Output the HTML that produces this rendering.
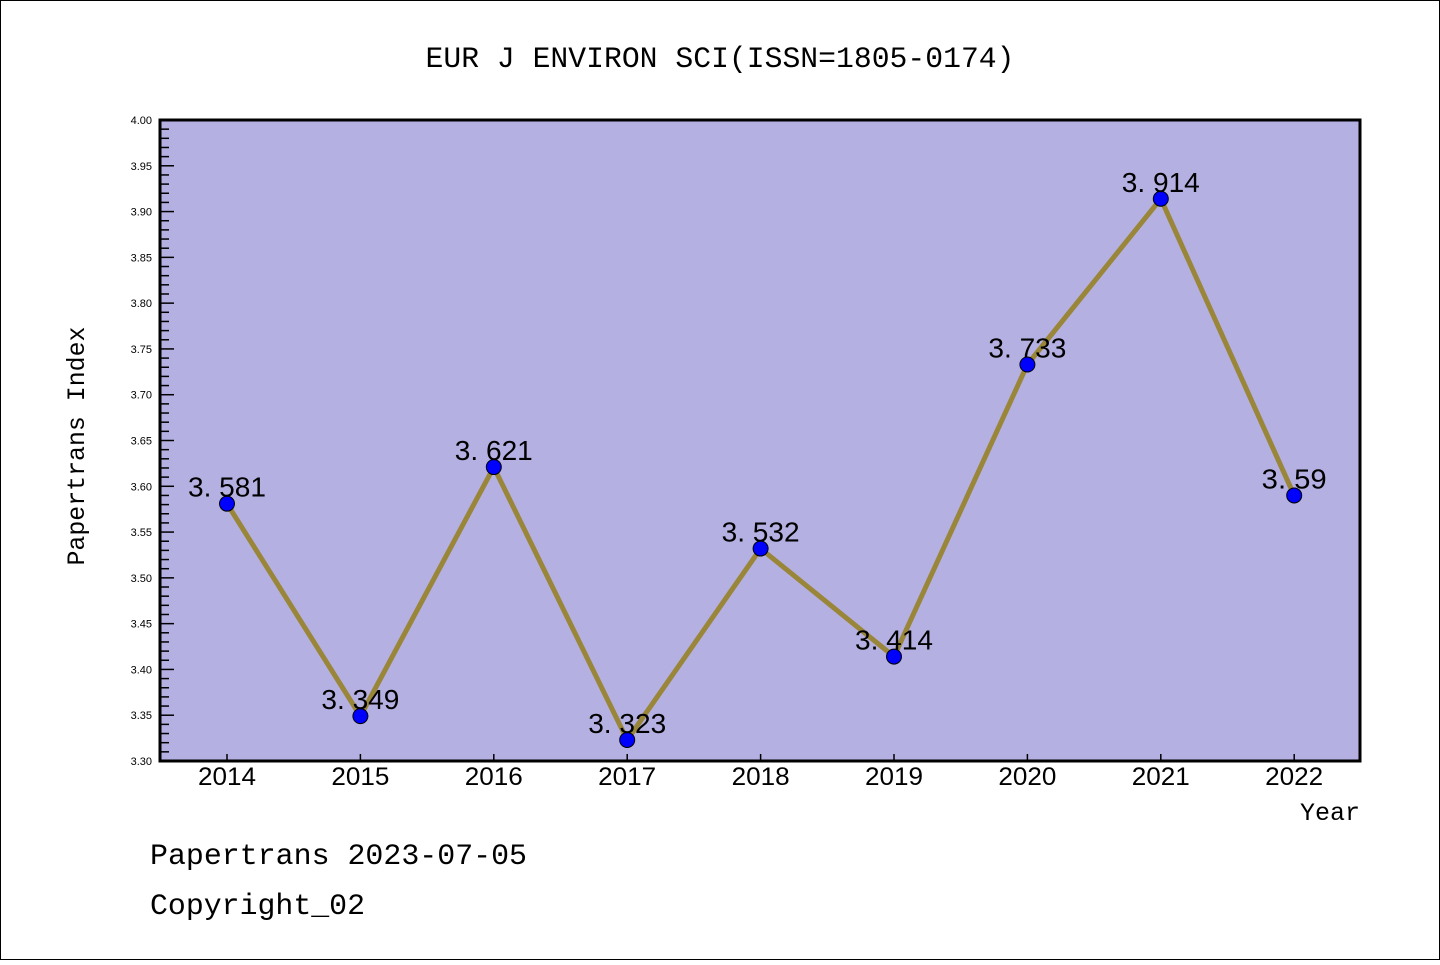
<!DOCTYPE html>
<html><head><meta charset="utf-8"><style>
html,body{margin:0;padding:0;background:#fff;}
svg text{font-family:"Liberation Mono","WenQuanYi Zen Hei",monospace;fill:#000;}
svg text.sans{font-family:"Liberation Sans","WenQuanYi Zen Hei",sans-serif;}
</style></head><body>
<svg id="chart" width="1440" height="960" xmlns="http://www.w3.org/2000/svg">
<rect x="0.5" y="0.5" width="1439" height="959" fill="#fff" stroke="#000" stroke-width="1"/>
<text x="720" y="67" font-size="30" text-anchor="middle" textLength="589" lengthAdjust="spacingAndGlyphs">EUR J ENVIRON SCI(ISSN=1805-0174)</text>
<rect x="160" y="120" width="1200" height="641" fill="#b5b0e2"/>
<g id="axes"></g>
<g id="series"></g>
<rect x="160" y="120" width="1200" height="641" fill="none" stroke="#000" stroke-width="3"/>
<text transform="translate(84,446) rotate(-90)" font-size="25" text-anchor="middle" textLength="239" lengthAdjust="spacingAndGlyphs">Papertrans Index</text>
<text x="1360" y="820" font-size="25" text-anchor="end">Year</text>
<text x="150" y="864" font-size="30" textLength="377" lengthAdjust="spacingAndGlyphs">Papertrans 2023-07-05</text>
<text x="150" y="914" font-size="30" textLength="215" lengthAdjust="spacingAndGlyphs">Copyright_02</text>
</svg>
<script>
const years=["2014","2015","2016","2017","2018","2019","2020","2021","2022"];
const values=[3.581,3.349,3.621,3.323,3.532,3.414,3.733,3.914,3.59];
const valueLabels=["3. 581","3. 349","3. 621","3. 323","3. 532","3. 414","3. 733","3. 914","3. 59"];
const yTicks=["3.30","3.35","3.40","3.45","3.50","3.55","3.60","3.65","3.70","3.75","3.80","3.85","3.90","3.95","4.00"];
const NS="http://www.w3.org/2000/svg";
const yMin=3.30,yMax=4.00,plotTop=120,plotBot=761,x0=227,dx=133.4;
function yS(v){return plotBot-(v-yMin)/(yMax-yMin)*(plotBot-plotTop);}
function xS(i){return x0+i*dx;}
function mk(tag,attrs,parent){const e=document.createElementNS(NS,tag);for(const k in attrs)e.setAttribute(k,attrs[k]);parent.appendChild(e);return e;}
const ax=document.getElementById('axes'),se=document.getElementById('series');
for(let k=0;k<=70;k++){
  const v=yMin+k*0.01,y=yS(v),major=k%5===0;
  const t=mk('line',{x1:160,x2:160+(major?14:9),y1:y,y2:y,stroke:'#000','stroke-width':1.5},ax);
  
  
}
yTicks.forEach(s=>{
  const tx=mk('text',{x:152,y:yS(parseFloat(s))+4,'font-size':11,'text-anchor':'end','class':'sans'},ax);
  tx.textContent=s;
  
  
});
years.forEach((yr,i)=>{
  const t=mk('line',{x1:xS(i),x2:xS(i),y1:plotBot,y2:plotBot-7,stroke:'#000','stroke-width':1.5},ax);
  
  
  const tx=mk('text',{x:xS(i),y:785,'font-size':25,'text-anchor':'middle','class':'sans',textLength:58,lengthAdjust:'spacingAndGlyphs'},ax);
  tx.textContent=yr;
  
  
});
const pl=mk('polyline',{points:values.map((v,i)=>xS(i)+','+yS(v)).join(' '),fill:'none',stroke:'#9a8638','stroke-width':5,'stroke-linejoin':'miter'},se);


values.forEach((v,i)=>{
  const c=mk('circle',{cx:xS(i),cy:yS(v),r:7.5,fill:'#0000ff',stroke:'#000','stroke-width':1},se);
  
  
});
values.forEach((v,i)=>{
  const tx=mk('text',{x:xS(i),y:yS(v)-7,'font-size':28,'text-anchor':'middle','class':'sans',textLength:valueLabels[i].length*13,lengthAdjust:'spacingAndGlyphs'},se);
  tx.textContent=valueLabels[i];
  
  
});
</script>
</body></html>
